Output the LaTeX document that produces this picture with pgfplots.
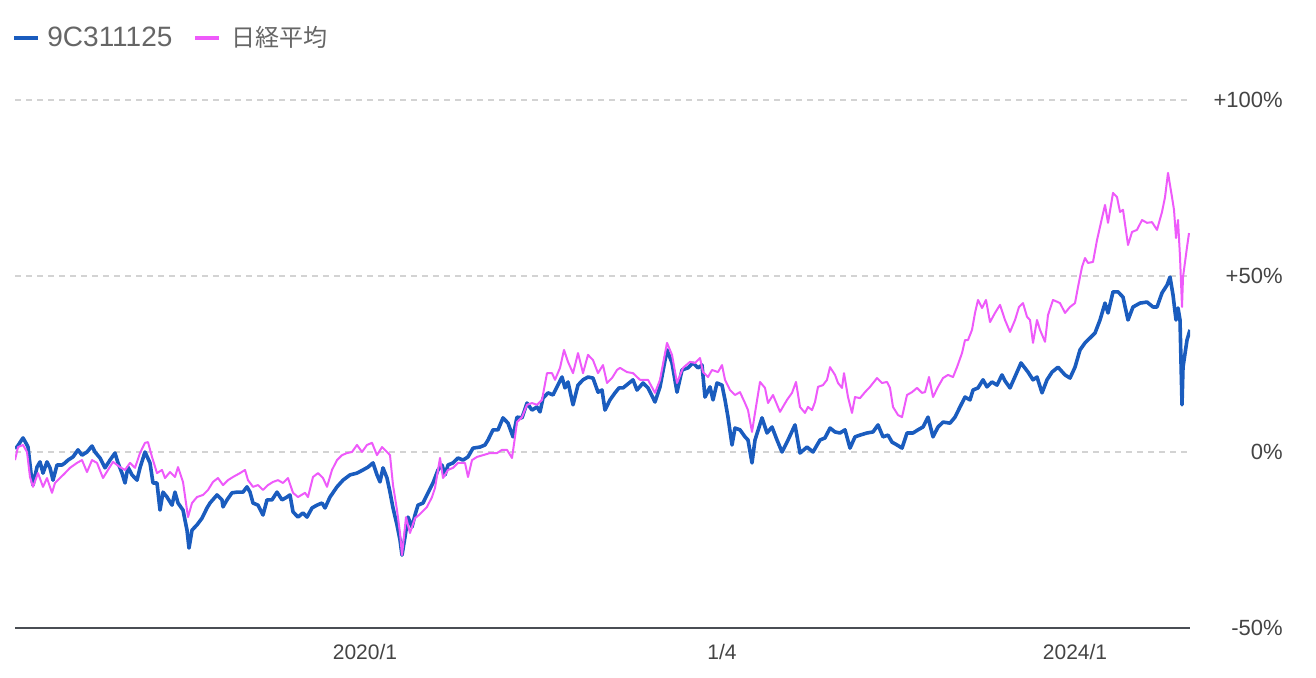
\documentclass[border=0pt]{standalone}
\usepackage{pgfplots}
\pgfplotsset{compat=1.18}
\usepackage{fontspec}
\setmainfont{Liberation Sans}
\newfontfamily\jp{Noto Sans CJK JP}
\definecolor{fundblue}{HTML}{1A5CBE}
\definecolor{nikkeipink}{HTML}{EE5AFA}
\definecolor{gridgray}{HTML}{D3D3D3}
\definecolor{axisgray}{HTML}{4A4E54}
\definecolor{labelgray}{HTML}{444444}
\definecolor{legendgray}{HTML}{666666}

% x = position on the time axis (2020/1 at 365, 2022/1 at 722, 2024/1 at 1075)
% y = return since start, percent
\pgfplotstableread{
x y
15 1.1
17 1.4
23 4.0
27 2.0
28 1.4
31 -6.0
33 -9.4
37 -4.3
40 -2.8
43 -6.0
47 -2.8
50 -4.5
53 -8.0
57 -3.7
62 -3.7
65 -3.1
68 -2.3
73 -1.4
78 0.6
82 -0.9
87 0.0
92 1.7
95 0.0
100 -1.7
105 -4.5
110 -2.3
115 -0.3
118 -3.1
122 -6.0
125 -8.8
128 -4.3
132 -6.5
137 -8.0
140 -4.5
145 0.0
150 -3.1
153 -8.8
157 -8.8
160 -16.5
163 -11.4
167 -12.8
172 -15.1
175 -11.4
178 -14.5
183 -16.5
187 -22.2
189 -27.3
192 -22.2
197 -20.7
202 -18.8
207 -15.9
210 -14.5
217 -12.2
222 -13.6
223 -15.6
227 -13.6
232 -11.6
237 -11.4
243 -11.4
247 -9.9
250 -11.4
253 -14.5
258 -15.1
263 -17.9
267 -13.6
272 -13.6
277 -11.4
282 -13.6
287 -12.8
290 -12.2
293 -17.0
298 -18.5
303 -17.3
307 -18.5
312 -15.9
317 -15.1
322 -14.5
325 -15.9
330 -12.8
337 -9.9
343 -8.0
350 -6.5
357 -6.0
363 -5.1
368 -4.3
373 -3.1
377 -6.5
380 -8.5
383 -4.5
387 -7.4
390 -11.4
393 -15.9
397 -20.7
400 -25.0
402 -29.3
405 -24.1
408 -18.5
412 -21.3
415 -17.9
418 -15.1
423 -14.5
428 -11.6
433 -8.8
438 -5.1
442 -3.7
445 -6.5
448 -3.7
453 -3.1
458 -1.7
463 -2.3
468 -1.4
473 1.1
480 1.4
485 2.0
488 3.4
493 6.3
498 6.3
503 9.7
508 8.2
513 4.3
517 9.9
522 9.7
527 13.9
532 11.9
537 12.8
540 11.4
543 15.3
548 16.8
553 16.2
557 18.5
562 21.3
565 18.2
568 19.9
573 13.4
578 19.0
583 20.5
588 21.3
593 21.0
598 17.0
602 17.6
605 11.9
610 14.8
615 16.8
619 18.2
623 18.2
633 20.5
637 17.6
643 19.6
648 18.2
655 14.2
660 18.5
667 29.0
672 25.3
677 17.0
682 23.3
688 23.9
693 25.3
698 23.9
702 24.7
705 15.6
710 18.5
713 14.8
717 19.6
722 19.0
725 14.8
728 9.9
732 2.0
735 6.8
740 6.3
745 4.3
748 3.4
752 -3.1
755 3.4
762 9.7
767 5.4
772 7.1
777 3.4
782 0.0
788 3.4
795 7.7
800 -0.3
807 1.4
813 0.0
820 3.4
825 4.0
830 6.8
835 5.7
840 5.4
845 6.3
850 1.1
855 4.3
860 4.8
867 5.4
873 5.7
878 7.7
883 4.3
888 4.8
892 2.8
897 2.0
902 1.1
907 5.4
913 5.4
918 6.3
923 7.1
928 9.9
933 4.3
938 7.1
943 8.5
950 8.2
955 9.9
960 12.8
965 15.6
970 14.8
973 17.6
978 18.2
983 20.5
987 18.5
992 19.9
997 19.0
1002 21.9
1005 20.2
1010 18.2
1017 22.7
1021 25.3
1028 22.7
1033 20.5
1037 21.3
1042 16.8
1047 20.5
1052 22.7
1058 24.1
1065 21.9
1070 21.0
1075 24.1
1080 29.0
1085 31.0
1090 32.4
1095 33.8
1100 37.5
1105 42.3
1108 39.5
1113 45.5
1118 45.5
1123 44.0
1128 37.5
1133 41.2
1140 42.3
1147 42.6
1153 41.2
1157 41.2
1162 45.2
1167 47.4
1170 49.7
1173 44.6
1176 37.5
1178 40.9
1180 37.5
1182 13.4
1183 24.1
1187 31.8
1190 34.7
}\fundtable

\pgfplotstableread{
x y
15 -2.3
18 1.4
23 2.0
27 0.0
30 -7.1
33 -9.9
38 -6.0
43 -9.9
47 -7.4
52 -11.6
55 -8.8
60 -7.4
65 -6.0
70 -4.5
77 -3.1
82 -2.3
87 -5.7
92 -2.3
97 -3.1
103 -7.4
108 -5.1
113 -2.8
120 -4.3
125 -5.1
130 -3.1
135 -4.5
140 -0.3
145 2.6
148 2.8
152 -1.4
157 -6.0
162 -5.1
165 -7.4
170 -5.7
175 -7.1
178 -4.3
183 -8.5
188 -18.5
192 -14.5
197 -12.8
203 -12.2
208 -10.8
213 -8.5
218 -7.4
223 -9.4
228 -8.0
233 -7.1
240 -6.0
245 -5.1
248 -8.0
253 -9.9
258 -9.4
263 -10.8
268 -9.4
273 -8.5
278 -8.0
283 -8.8
288 -7.4
293 -11.6
298 -12.8
305 -11.6
308 -12.8
313 -7.1
318 -6.0
323 -7.4
327 -9.9
332 -5.1
337 -2.3
342 -0.9
347 -0.3
352 0.0
357 2.0
362 0.0
367 2.0
372 2.6
377 -0.9
382 1.4
387 0.0
390 -0.9
393 -9.4
397 -16.5
400 -23.0
402 -29.3
406 -18.5
410 -23.0
415 -18.8
419 -17.9
427 -15.6
432 -12.8
435 -10.2
440 -1.7
443 -7.4
448 -5.1
453 -4.5
458 -3.1
465 -3.1
468 -7.1
472 -2.3
477 -1.4
483 -0.9
490 -0.3
497 -0.3
502 0.6
507 0.6
512 -1.7
515 4.3
517 8.5
522 9.9
527 13.4
532 13.9
537 13.4
542 14.8
547 22.4
552 22.4
555 20.5
560 23.9
564 29.0
568 25.6
573 22.4
578 28.1
583 22.4
588 27.6
593 26.1
598 22.4
603 24.7
607 19.6
612 21.0
617 23.3
620 23.9
627 22.7
633 22.4
640 20.5
648 20.5
655 16.8
660 20.5
667 31.0
672 27.6
677 19.6
683 23.9
690 25.6
695 25.3
700 26.7
703 22.7
708 21.3
712 23.3
718 22.7
722 24.7
725 20.5
730 17.6
735 16.2
740 17.0
745 13.9
748 11.9
752 5.7
755 11.1
760 19.9
765 18.2
768 13.9
773 16.2
780 11.4
787 14.8
792 16.8
796 19.9
800 12.8
805 11.1
808 12.8
812 11.9
815 14.2
818 18.5
823 19.0
827 20.5
830 24.1
835 21.9
838 19.6
842 18.2
844 22.4
848 15.6
852 11.1
855 15.6
860 15.3
865 17.0
870 18.5
877 21.0
882 19.6
887 19.9
890 18.2
893 12.8
898 10.5
902 9.9
907 16.2
912 17.0
917 18.2
922 16.8
925 17.0
929 21.3
933 15.6
938 18.5
943 21.0
948 21.9
953 21.3
957 24.1
962 28.1
965 31.8
968 31.8
972 34.7
975 39.5
978 43.2
982 40.9
986 43.2
990 36.9
995 39.5
1000 41.8
1005 37.5
1010 34.1
1015 37.5
1019 41.2
1023 42.3
1027 38.4
1030 37.5
1033 31.0
1037 37.5
1040 34.7
1045 31.3
1048 38.9
1053 43.2
1060 42.3
1065 39.5
1070 41.2
1075 42.3
1078 46.9
1082 52.6
1085 55.1
1088 53.7
1093 54.0
1097 60.2
1102 66.5
1105 70.2
1108 65.1
1113 73.6
1117 72.4
1120 68.2
1123 68.8
1128 58.8
1132 62.5
1137 63.1
1142 65.9
1147 65.1
1152 65.3
1157 63.1
1162 68.2
1165 72.4
1168 79.3
1172 72.4
1174 68.8
1176 60.8
1178 65.9
1180 55.4
1182 41.2
1183 49.7
1187 58.2
1189 62.2
}\nikkeitable

\begin{document}
\begin{tikzpicture}
\path[use as bounding box] (0,0) rectangle (658pt,339pt);
\begin{axis}[
  at={(7.5pt,25pt)}, anchor=south west,
  scale only axis, width=587.5pt, height=264pt,
  xmin=15, xmax=1190, ymin=-50, ymax=100,
  axis x line*=bottom, axis y line*=right, separate axis lines,
  x axis line style={draw=axisgray, line width=1pt},
  y axis line style={draw=none},
  xtick={365,722,1075}, xticklabels={2020/1,1/4,2024/1},
  ytick={-50,0,50,100}, yticklabels={-50\%,0\%,+50\%,+100\%},
  major tick length=0pt,
  ymajorgrids,
  grid style={gridgray, line width=0.7pt, dash pattern=on 3pt off 2.5pt},
  xticklabel style={font=\fontsize{10.5pt}{12pt}\selectfont, text=labelgray,
                    anchor=center, yshift=-12pt},
  yticklabel style={font=\fontsize{11pt}{13pt}\selectfont, text=labelgray,
                    anchor=east, xshift=46.5pt, inner sep=0pt},
  legend columns=2,
  legend style={at={(0,1)}, anchor=west, xshift=-1.5pt, yshift=31pt,
                draw=none, fill=none, inner sep=0pt, text=legendgray,
                font=\fontsize{14pt}{16pt}\selectfont,
                /tikz/every even column/.append style={column sep=8.5pt}},
  legend image code/.code={\draw[#1, line width=2pt] (0pt,0pt) -- (12pt,0pt);},
]
\addplot[fundblue, line width=1.8pt, line join=round] table[x=x, y=y] {\fundtable};
\addlegendentry{\hspace{1.5pt}9C311125}
\addplot[nikkeipink, line width=1pt, line join=round] table[x=x, y=y] {\nikkeitable};
\addlegendentry{\hspace{3pt}{\jp\fontsize{12pt}{14pt}\selectfont 日経平均}}
\end{axis}
\end{tikzpicture}
\end{document}
